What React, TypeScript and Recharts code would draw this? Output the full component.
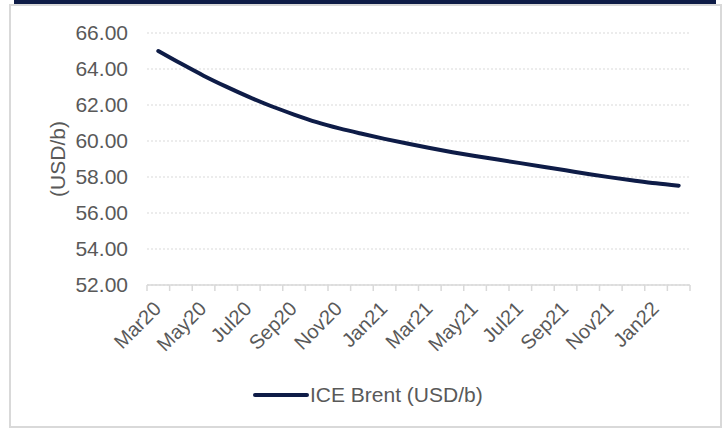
import React from "react"
import { LineChart, Line, XAxis, YAxis, CartesianGrid, Legend, Label } from "recharts"

const months = [
  "Mar20", "Apr20", "May20", "Jun20", "Jul20", "Aug20", "Sep20", "Oct20", "Nov20", "Dec20", "Jan21", "Feb21",
  "Mar21", "Apr21", "May21", "Jun21", "Jul21", "Aug21", "Sep21", "Oct21", "Nov21", "Dec21", "Jan22", "Feb22",
]
const brent = [
  65.0, 64.3, 63.63, 63.02, 62.45, 61.93, 61.47, 61.05, 60.7, 60.4, 60.12, 59.86,
  59.61, 59.38, 59.17, 58.97, 58.77, 58.57, 58.37, 58.17, 57.98, 57.81, 57.65, 57.52,
]
const yTicks = [52, 54, 56, 58, 60, 62, 64, 66]
const boundaryTicks = months.map((_, i) => i).concat([months.length])

const data = months.map((m, i) => ({ month: m, idx: i, brent: brent[i] }))

const NAVY = "#0e1c47"
const GREY_TEXT = "#595959"
const GREY_LINE = "#d9d9d9"
const FONT = "'Liberation Sans', Arial, sans-serif"
// half of one month's slot, so points sit in the middle of each category
const HALF_SLOT = 543 / months.length / 2

const MonthTick = ({ x, y, payload, index }: any) => {
  if (index % 2 !== 0) return <g />
  return (
    <text
      x={x + 4}
      y={y + 16}
      transform={`rotate(-45, ${x + 4}, ${y + 16})`}
      textAnchor="end"
      fill={GREY_TEXT}
      fontSize={20}
      fontFamily={FONT}
    >
      {payload.value}
    </text>
  )
}

const YAxisTitle = ({ viewBox }: any) => {
  const cx = viewBox.x + 57
  const cy = viewBox.y + viewBox.height / 2
  return (
    <text
      x={cx}
      y={cy}
      transform={`rotate(-90, ${cx}, ${cy})`}
      textAnchor="middle"
      dominantBaseline="central"
      fill={GREY_TEXT}
      fontSize={21}
      fontFamily={FONT}
    >
      (USD/b)
    </text>
  )
}

const LegendBox = () => (
  <div style={{ height: 72, display: "flex", alignItems: "center", paddingLeft: 253, fontFamily: FONT }}>
    <svg width={56} height={8} style={{ display: "block" }}>
      <line x1={2} y1={4} x2={54} y2={4} stroke={NAVY} strokeWidth={4} strokeLinecap="round" />
    </svg>
    <span style={{ color: GREY_TEXT, fontSize: 21, marginLeft: 1 }}>ICE Brent (USD/b)</span>
  </div>
)

export default function App() {
  return (
    <div style={{ position: "absolute", left: 0, top: 0, width: 725, height: 431, background: "#fff" }}>
      <div style={{ position: "absolute", left: 14, top: 0, width: 702, height: 4, background: NAVY }} />
      <div
        style={{
          position: "absolute",
          left: 9,
          top: 4,
          width: 713,
          height: 424,
          border: `2px solid ${GREY_LINE}`,
          boxSizing: "border-box",
        }}
      />
      <div style={{ position: "absolute", left: 0, top: 0 }}>
        <LineChart width={725} height={431} data={data} margin={{ top: 33, right: 35, bottom: 0, left: 0 }}>
          <CartesianGrid vertical={false} stroke={GREY_LINE} strokeDasharray="2 2" xAxisId="b" />
          <XAxis
            xAxisId="a"
            type="number"
            dataKey="idx"
            domain={[0, months.length]}
            allowDataOverflow
            ticks={boundaryTicks}
            interval={0}
            height={1}
            tick={() => <g />}
            tickSize={6}
            axisLine={{ stroke: GREY_LINE, strokeWidth: 1.5 }}
            tickLine={{ stroke: GREY_LINE, strokeWidth: 1.5 }}
          />
          <XAxis
            xAxisId="b"
            dataKey="month"
            interval={0}
            height={73}
            padding={{ left: HALF_SLOT, right: HALF_SLOT }}
            axisLine={false}
            tickLine={false}
            tick={<MonthTick />}
          />
          <YAxis
            domain={[52, 66]}
            ticks={yTicks}
            width={147}
            axisLine={false}
            tickLine={false}
            tickMargin={13}
            tickFormatter={(v: number) => v.toFixed(2)}
            tick={{ fill: GREY_TEXT, fontSize: 21, fontFamily: FONT }}
          >
            <Label content={<YAxisTitle />} />
          </YAxis>
          <Legend verticalAlign="bottom" content={<LegendBox />} />
          <Line
            xAxisId="b"
            type="monotone"
            dataKey="brent"
            stroke={NAVY}
            strokeWidth={4}
            strokeLinecap="round"
            dot={false}
            isAnimationActive={false}
          />
        </LineChart>
      </div>
    </div>
  )
}
